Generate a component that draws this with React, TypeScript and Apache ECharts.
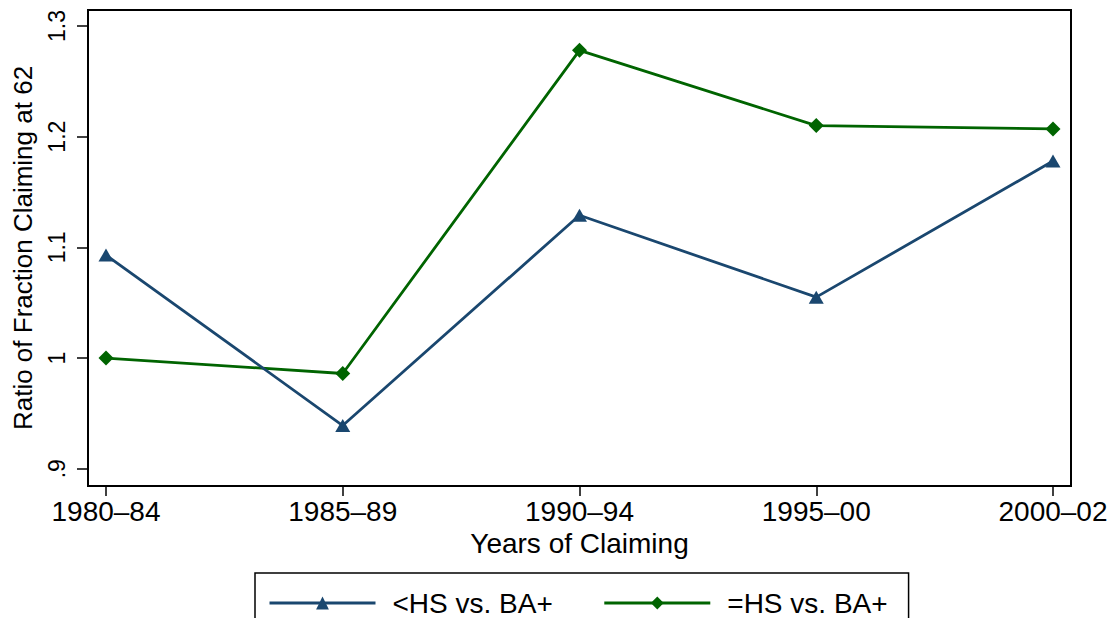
import React, { useEffect, useRef } from "react";
import * as echarts from "echarts";

const categories = ["1980–84", "1985–89", "1990–94", "1995–00", "2000–02"];
const seriesNames = ["<HS vs. BA+", "=HS vs. BA+"];
const lessHSValues = [1.093, 0.939, 1.129, 1.055, 1.178];
const eqHSValues = [1.0, 0.986, 1.278, 1.21, 1.207];
const yTickValues = [0.9, 1.0, 1.1, 1.2, 1.3];
const yTickLabels = [".9", "1", "1.1", "1.2", "1.3"];
const xTickValues = [0, 1, 2, 3, 4];

const FONT = "'Liberation Sans', Arial, Helvetica, sans-serif";
const BLUE = "#1a476f";
const GREEN = "#006400";

export default function App() {
  const ref = useRef<HTMLDivElement>(null);

  useEffect(() => {
    if (!ref.current) return;
    const chart = echarts.init(ref.current, null, { renderer: "svg" });
    const yLabel = (v: number) => {
      const i = yTickValues.findIndex((t) => Math.abs(t - v) < 1e-6);
      return i >= 0 ? yTickLabels[i] : "";
    };
    chart.setOption({
      animation: false,
      backgroundColor: "#ffffff",
      textStyle: { fontFamily: FONT },
      grid: {
        left: 88,
        top: 10,
        width: 983,
        height: 476,
        show: true,
        borderColor: "#000",
        borderWidth: 2,
        backgroundColor: "transparent",
      },
      xAxis: {
        type: "value",
        min: -0.076,
        max: 4.076,
        axisLine: { show: false, onZero: false },
        splitLine: { show: false },
        axisTick: {
          show: true,
          inside: false,
          customValues: xTickValues,
          length: 10,
          lineStyle: { color: "#000", width: 1.5 },
        },
        axisLabel: {
          customValues: xTickValues,
          formatter: (v: number) => categories[Math.round(v)] ?? "",
          fontSize: 28,
          color: "#000",
          margin: 11,
          fontFamily: FONT,
        },
        name: "Years of Claiming",
        nameLocation: "middle",
        nameGap: 40,
        nameTextStyle: { fontSize: 28, color: "#000", fontFamily: FONT },
      },
      yAxis: {
        type: "value",
        min: 0.88437,
        max: 1.31445,
        axisLine: { show: false, onZero: false },
        splitLine: { show: false },
        axisTick: {
          show: true,
          inside: false,
          customValues: yTickValues,
          length: 11,
          lineStyle: { color: "#000", width: 1.5 },
        },
        axisLabel: {
          customValues: yTickValues,
          formatter: yLabel,
          rotate: 90,
          fontSize: 23,
          color: "#000",
          margin: 20,
          fontFamily: FONT,
        },
        name: "Ratio of Fraction Claiming at 62",
        nameLocation: "middle",
        nameRotate: 90,
        nameGap: 52,
        nameTextStyle: { fontSize: 26, color: "#000", fontFamily: FONT },
      },
      legend: {
        left: 255,
        top: 573,
        orient: "horizontal",
        itemWidth: 106,
        itemHeight: 16,
        itemGap: 50,
        padding: [15, 21, 15, 13],
        borderColor: "#000",
        borderWidth: 1.5,
        backgroundColor: "#fff",
        lineStyle: { width: 3 },
        textStyle: {
          fontSize: 28,
          color: "#000",
          lineHeight: 30,
          padding: [0, 0, 0, 12],
          fontFamily: FONT,
        },
        data: seriesNames,
      },
      series: [
        {
          name: seriesNames[0],
          type: "line",
          data: lessHSValues.map((v, i) => [i, v]),
          symbol: "triangle",
          symbolSize: [15, 13],
          lineStyle: { color: BLUE, width: 2.8 },
          itemStyle: { color: BLUE },
          z: 3,
        },
        {
          name: seriesNames[1],
          type: "line",
          data: eqHSValues.map((v, i) => [i, v]),
          symbol: "diamond",
          symbolSize: [15, 15],
          lineStyle: { color: GREEN, width: 2.8 },
          itemStyle: { color: GREEN },
          z: 2,
        },
      ],
    });
    return () => chart.dispose();
  }, []);

  return (
    <div
      ref={ref}
      style={{ position: "fixed", left: 0, top: 0, width: 1115, height: 618, background: "#fff" }}
    />
  );
}
